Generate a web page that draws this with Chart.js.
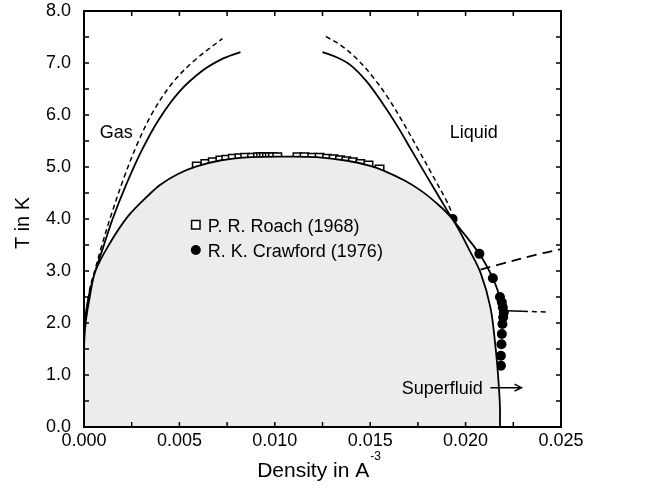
<!DOCTYPE html>
<html>
<head>
<meta charset="utf-8">
<script src="https://cdn.jsdelivr.net/npm/chart.js@4.4.0/dist/chart.umd.min.js"></script>
<style>
  html, body { margin: 0; padding: 0; background: #fff; }
  #wrap { width: 647px; height: 489px; }
</style>
</head>
<body>
<div id="wrap"><canvas id="chart"></canvas></div>
<script>
// axes
const X_MIN = 0, X_MAX = 0.025, X_STEP = 0.005, X_MINOR = 0.0025
const Y_MIN = 0, Y_MAX = 8, Y_STEP = 1, Y_MINOR = 0.5

// coexistence curve, gas branch then liquid branch (shaded below)
const coexRho = [0, 0, 0.00002, 0.0001, 0.0003, 0.0006, 0.0013, 0.0023, 0.0035, 0.0040, 0.0049, 0.0059, 0.0072, 0.0088, 0.0105,
                 0.0122, 0.0138, 0.0150, 0.0157, 0.0168, 0.0176, 0.0184, 0.0193, 0.0202, 0.0208, 0.0213, 0.02155, 0.0217, 0.0218, 0.0218]
const coexT   = [0, 1.2, 1.7, 2.05, 2.5, 3.0, 3.5, 4.05, 4.5, 4.66, 4.86, 5.01, 5.13, 5.19, 5.2,
                 5.19, 5.12, 5.02, 4.93, 4.74, 4.56, 4.33, 4.0, 3.4, 2.95, 2.3, 1.6, 1.0, 0.4, 0]

// outer solid curves
const gasSolidRho = [0.00001, 0.0001, 0.0003, 0.0006, 0.0010, 0.0015, 0.0022, 0.0030, 0.0039, 0.0050, 0.0062, 0.0072, 0.0082]
const gasSolidT   = [1.8, 2.2, 2.6, 3.0, 3.45, 4.0, 4.65, 5.3, 5.9, 6.45, 6.85, 7.07, 7.21]
const liqSolidRho = [0.0125, 0.0133, 0.0140, 0.0148, 0.0156, 0.0164, 0.0172, 0.0180, 0.01865, 0.01932, 0.02072, 0.02143, 0.0218, 0.0220]
const liqSolidT   = [7.21, 7.1, 6.95, 6.65, 6.25, 5.8, 5.3, 4.8, 4.4, 4.0, 3.33, 2.86, 2.5, 2.25]

// outer dashed curves
const gasDashRho = [0.00001, 0.0003, 0.0006, 0.0009, 0.0014, 0.0021, 0.0028, 0.0036, 0.0046, 0.0057, 0.00725]
const gasDashT   = [1.8, 2.65, 3.05, 3.45, 4.05, 4.8, 5.45, 6.05, 6.6, 7.02, 7.47]
const liqDashRho = [0.01268, 0.0135, 0.0143, 0.0151, 0.0159, 0.0167, 0.0175, 0.0183, 0.0190, 0.0193]
const liqDashT   = [7.51, 7.33, 7.08, 6.75, 6.35, 5.87, 5.35, 4.82, 4.35, 4.1]

// long dashed line
const longDashRho = [0, 0.0005, 0.0013, 0.0025, 0.0044, 0.0065, 0.0090, 0.0120, 0.0150, 0.0184, 0.0215, 0.0239, 0.0250]
const longDashT   = [0, 0.25, 0.5, 0.78, 1.14, 1.43, 1.72, 2.08, 2.4, 2.78, 3.1, 3.33, 3.42]

// lambda line
const lambdaRho = [0.0221, 0.0230]
const lambdaT   = [2.235, 2.225]
const lambdaDashRho = [0.0230, 0.0243]
const lambdaDashT   = [2.225, 2.21]

// P. R. Roach (1968)
const roachRho = [0.00591, 0.00636, 0.00675, 0.00715, 0.00746, 0.0078, 0.00815, 0.00845, 0.00881, 0.00912, 0.00928, 0.00943,
                  0.00959, 0.00974, 0.0099, 0.01013, 0.01119, 0.01156, 0.01196, 0.01235, 0.01274, 0.01308, 0.01342, 0.01375,
                  0.01409, 0.01448, 0.01491, 0.01549]
const roachT   = [5.01, 5.06, 5.09, 5.125, 5.14, 5.16, 5.17, 5.18, 5.18, 5.19, 5.19, 5.19,
                  5.19, 5.19, 5.19, 5.19, 5.19, 5.19, 5.18, 5.18, 5.16, 5.15, 5.13, 5.11,
                  5.09, 5.06, 5.03, 4.95]

// R. K. Crawford (1976)
const crawRho = [0.01932, 0.02072, 0.02143, 0.0218, 0.0219, 0.02195, 0.0220, 0.02197, 0.02193, 0.0219, 0.02188, 0.02185, 0.02185]
const crawT   = [4.00, 3.33, 2.86, 2.50, 2.40, 2.30, 2.20, 2.11, 1.98, 1.79, 1.59, 1.37, 1.18]

// text labels: [text, rho, T]
const LABELS = [["Gas", 0.00082, 5.55], ["Liquid", 0.01917, 5.55], ["Superfluid", 0.01665, 0.64]]
const ARROW = [[0.0213, 0.757], [0.02293, 0.757]]
const LEGEND = [["P. R. Roach (1968)", 0.00586, 3.89], ["R. K. Crawford (1976)", 0.00586, 3.405]]

const FONT = '"Liberation Sans", Arial, Helvetica, sans-serif'

function pts(xs, ys) {
    return xs.map((x, i) => ({ x: x, y: ys[i] }))
}

function curve(xs, ys, dash, width) {
    return {
        data: pts(xs, ys),
        showLine: true,
        borderColor: "#000",
        borderWidth: width || 1.8,
        borderDash: dash || [],
        pointRadius: 0,
        tension: 0.35,
        fill: false
    }
}

function noPad(s) {
    s.paddingTop = 0; s.paddingBottom = 0; s.paddingLeft = 0; s.paddingRight = 0
}

const decor = {
    id: "decor",
    afterDraw(chart) {
        const ctx = chart.ctx
        const a = chart.chartArea
        const sx = chart.scales.x, sy = chart.scales.y
        ctx.save()

        // frame
        ctx.strokeStyle = "#000"
        ctx.lineWidth = 2
        ctx.strokeRect(a.left, a.top, a.right - a.left, a.bottom - a.top)

        // inward ticks on all four sides
        ctx.lineWidth = 1.5
        ctx.beginPath()
        for (let v = X_MIN + X_MINOR; v < X_MAX - 1e-9; v += X_MINOR) {
            let px = sx.getPixelForValue(v)
            ctx.moveTo(px, a.bottom); ctx.lineTo(px, a.bottom - 5)
            ctx.moveTo(px, a.top); ctx.lineTo(px, a.top + 5)
        }
        for (let v = Y_MIN + Y_MINOR; v < Y_MAX - 1e-9; v += Y_MINOR) {
            let py = sy.getPixelForValue(v)
            ctx.moveTo(a.left, py); ctx.lineTo(a.left + 5, py)
            ctx.moveTo(a.right, py); ctx.lineTo(a.right - 5, py)
        }
        ctx.stroke()

        // labels
        ctx.fillStyle = "#000"
        ctx.font = "18px " + FONT
        ctx.textBaseline = "alphabetic"
        ctx.textAlign = "left"
        for (let l of LABELS) {
            ctx.fillText(l[0], sx.getPixelForValue(l[1]), sy.getPixelForValue(l[2]))
        }

        // arrow
        let x1 = sx.getPixelForValue(ARROW[0][0]), y1 = sy.getPixelForValue(ARROW[0][1])
        let x2 = sx.getPixelForValue(ARROW[1][0])
        ctx.lineWidth = 1.5
        ctx.beginPath()
        ctx.moveTo(x1, y1); ctx.lineTo(x2, y1)
        ctx.moveTo(x2 - 7, y1 - 3.5); ctx.lineTo(x2, y1); ctx.lineTo(x2 - 7, y1 + 3.5)
        ctx.stroke()

        // legend
        for (let i = 0; i < LEGEND.length; i++) {
            let mx = sx.getPixelForValue(LEGEND[i][1]), my = sy.getPixelForValue(LEGEND[i][2])
            ctx.beginPath()
            if (i == 0) {
                ctx.fillStyle = "#fff"
                ctx.rect(mx - 4.2, my - 4.2, 8.4, 8.4)
                ctx.fill()
                ctx.lineWidth = 1.5
                ctx.stroke()
            } else {
                ctx.fillStyle = "#000"
                ctx.arc(mx, my, 5, 0, Math.PI * 2)
                ctx.fill()
            }
            ctx.fillStyle = "#000"
            ctx.fillText(LEGEND[i][0], mx + 12, my + 7)
        }

        // axis titles
        ctx.font = "21px " + FONT
        let main = "Density in A", sup = "-3"
        let w1 = ctx.measureText(main).width
        ctx.font = "12px " + FONT
        let w2 = ctx.measureText(sup).width
        let cx = (a.left + a.right) / 2 - 4
        let start = cx - (w1 + w2) / 2
        ctx.font = "21px " + FONT
        ctx.fillText(main, start, 477)
        ctx.font = "12px " + FONT
        ctx.fillText(sup, start + w1 + 1, 460)

        ctx.font = "20px " + FONT
        ctx.translate(23, (a.top + a.bottom) / 2 + 4)
        ctx.rotate(-Math.PI / 2)
        ctx.textAlign = "center"
        ctx.textBaseline = "middle"
        ctx.fillText("T in K", 0, 0)
        ctx.restore()
    }
}

const coex = curve(coexRho, coexT)
coex.fill = "origin"
coex.backgroundColor = "#ececec"

const datasets = [
    coex,
    curve(gasSolidRho, gasSolidT),
    curve(liqSolidRho, liqSolidT),
    curve(gasDashRho, gasDashT, [5, 3.5], 1.5),
    curve(liqDashRho, liqDashT, [5, 3.5], 1.5),
    curve(longDashRho, longDashT, [10, 6], 1.8),
    curve(lambdaRho, lambdaT, [], 1.5),
    curve(lambdaDashRho, lambdaDashT, [5, 4], 1.5),
    {
        data: pts(roachRho, roachT),
        showLine: false,
        pointStyle: "rect",
        pointRadius: 6,
        pointBackgroundColor: "#fff",
        pointBorderColor: "#000",
        pointBorderWidth: 1.5
    },
    {
        data: pts(crawRho, crawT),
        showLine: false,
        pointStyle: "circle",
        pointRadius: 5,
        pointBackgroundColor: "#000",
        pointBorderColor: "#000",
        pointBorderWidth: 0
    }
]

new Chart(document.getElementById("chart"), {
    type: "scatter",
    data: { datasets: datasets },
    options: {
        responsive: true,
        maintainAspectRatio: false,
        animation: false,
        layout: { padding: { left: 0, right: 86, top: 11, bottom: 0 }, autoPadding: false },
        plugins: { legend: { display: false }, tooltip: { enabled: false } },
        scales: {
            x: {
                type: "linear",
                min: X_MIN, max: X_MAX,
                afterFit(s) { s.height = 62; noPad(s) },
                grid: { display: false, drawTicks: false },
                border: { display: false },
                ticks: {
                    stepSize: X_STEP,
                    autoSkip: false,
                    maxRotation: 0,
                    padding: 3,
                    color: "#000",
                    font: { family: FONT, size: 18 },
                    callback: v => v.toFixed(3)
                }
            },
            y: {
                type: "linear",
                min: Y_MIN, max: Y_MAX,
                afterFit(s) { s.width = 84; noPad(s) },
                grid: { display: false, drawTicks: false },
                border: { display: false },
                ticks: {
                    stepSize: Y_STEP,
                    autoSkip: false,
                    padding: 13,
                    color: "#000",
                    font: { family: FONT, size: 18 },
                    callback: v => v.toFixed(1)
                }
            }
        }
    },
    plugins: [decor]
});
</script>
</body>
</html>
